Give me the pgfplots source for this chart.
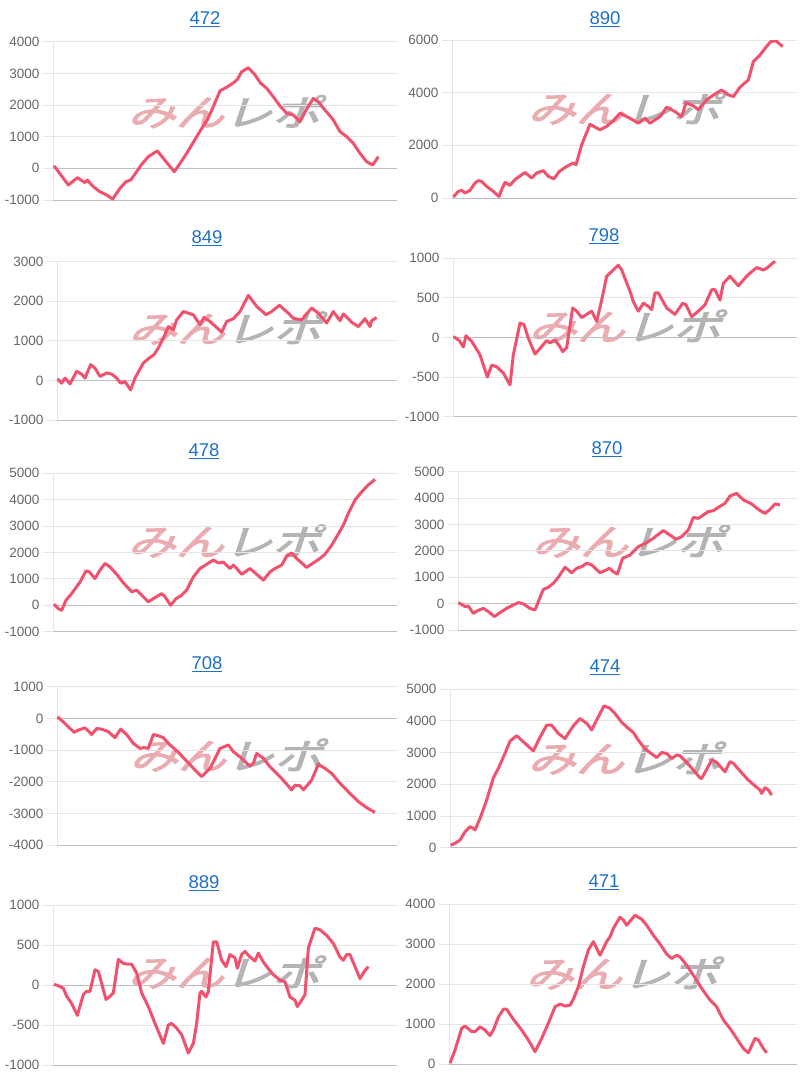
\documentclass[border=0pt]{standalone}
\usepackage{pgfplots}
\pgfplotsset{compat=1.18}
\usepackage{fontspec}
\setmainfont{Liberation Sans}
\newfontfamily\jpfont[FakeSlant=0.25, FakeBold=2.5]{Noto Sans CJK JP}
\definecolor{linered}{RGB}{240,82,110}
\definecolor{titleblue}{RGB}{30,112,200}
\definecolor{labgray}{RGB}{102,102,102}
\definecolor{wmpink}{RGB}{234,172,176}
\definecolor{wmgray}{RGB}{180,180,180}
\pgfplotsset{
  panel/.style={
    scale only axis, anchor=south west,
    axis lines*=left,
    x axis line style={draw=black!25, line width=0.8pt},
    y axis line style={draw=black!10, line width=0.8pt},
    xtick=\empty,
    ymajorgrids, grid style={draw=black!10, line width=0.8pt},
    tick align=outside, major tick length=10pt,
    ytick style={draw=black!10, line width=0.8pt},
    yticklabel style={font=\fontsize{13.5}{14}\selectfont, text=labgray},
    /pgf/number format/assume math mode=true,
    /pgf/number format/1000 sep={},
    scaled y ticks=false,
    extra y ticks={0}, extra y tick labels={},
    extra y tick style={grid style={draw=black!25, line width=0.8pt}},
    xmax=1191,
  },
  ln/.style={draw=linered, line width=3pt, line join=round, mark=none},
}
\newcommand{\logo}{\jpfont\textcolor{wmpink}{みん}\textcolor{wmgray}{レポ}}
\newcommand{\wm}[2]{\node[inner sep=0pt] at (#1pt,#2pt) {\resizebox*{193pt}{33pt}{\logo}};}
\newcommand{\ttl}[3]{\node[anchor=base, inner sep=0pt, text=titleblue, font=\fontsize{18.5}{20}\selectfont] at (#1pt,#2pt) {\underline{#3}};}
\begin{document}
\begin{tikzpicture}
\useasboundingbox (0pt,0pt) rectangle (800pt,-1080pt);
% ---------- 472
\wm{224}{-111.5}
\ttl{205}{-24.5}{472}
\begin{axis}[panel, at={(53pt,-200pt)}, width=344pt, height=158.3pt, xmin=159, ymin=-1000, ymax=4000, ytick={-1000,0,...,4000}]
\addplot[ln] coordinates {(162,84)(205,-526)(232,-295)(255,-450)(262,-370)(280,-580)(300,-740)(320,-840)(338,-970)(360,-630)(378,-420)(392,-370)(410,-105)(425,126)(445,370)(460,470)(472,550)(490,316)(523,-105)(540,158)(560,474)(575,737)(590,1000)(605,1260)(622,1530)(640,1950)(660,2450)(680,2560)(700,2700)(712,2810)(725,3050)(745,3180)(765,2950)(782,2690)(800,2530)(820,2260)(840,1970)(860,1740)(880,1685)(900,1470)(918,1840)(940,2210)(955,2100)(975,1840)(1000,1530)(1020,1160)(1040,1000)(1060,790)(1080,474)(1100,210)(1118,105)(1135,370)};
\end{axis}
% ---------- 890
\wm{624}{-108}
\ttl{605}{-24.5}{890}
\begin{axis}[panel, at={(452pt,-198pt)}, width=345pt, height=158pt, xmin=156, ymin=0, ymax=6000, ytick={0,2000,4000,6000}]
\addplot[ln] coordinates {(160,40)(175,250)(185,290)(195,190)(210,290)(225,570)(235,660)(245,630)(260,440)(280,250)(297,60)(305,320)(315,590)(330,480)(345,700)(375,970)(395,760)(410,950)(430,1040)(445,820)(462,730)(478,1010)(500,1200)(520,1330)(528,1260)(545,2020)(570,2800)(600,2590)(620,2720)(640,2940)(660,3220)(690,3030)(715,2840)(735,3030)(750,2840)(780,3090)(800,3450)(825,3280)(845,3090)(858,3620)(880,3500)(895,3350)(920,3730)(945,3950)(965,4100)(985,3920)(1000,3850)(1020,4210)(1045,4480)(1060,5180)(1080,5430)(1095,5680)(1112,5940)(1128,5970)(1148,5750)};
\end{axis}
% ---------- 849
\wm{225}{-328}
\ttl{207}{-243.5}{849}
\begin{axis}[panel, at={(57pt,-420pt)}, width=340pt, height=158.3pt, xmin=171, ymin=-1000, ymax=3000, ytick={-1000,0,...,3000}]
\addplot[ln] coordinates {(172,40)(185,-70)(195,60)(210,-90)(230,230)(245,160)(255,60)(272,400)(285,310)(300,100)(320,190)(335,160)(350,60)(362,-70)(375,-30)(392,-240)(405,60)(430,440)(445,550)(462,650)(475,820)(490,1070)(505,1360)(520,1280)(530,1530)(550,1740)(580,1660)(600,1410)(612,1590)(630,1490)(665,1220)(680,1490)(700,1560)(720,1740)(745,2150)(770,1870)(798,1660)(815,1740)(838,1900)(865,1700)(880,1570)(905,1530)(935,1830)(955,1700)(980,1450)(1000,1740)(1020,1510)(1030,1680)(1055,1470)(1075,1360)(1095,1560)(1110,1360)(1115,1510)(1130,1590)};
\end{axis}
% ---------- 798
\wm{625}{-326}
\ttl{604}{-241.5}{798}
\begin{axis}[panel, at={(453pt,-416.7pt)}, width=344pt, height=158.7pt, xmin=159, ymin=-1000, ymax=1000, ytick={-1000,-500,0,500,1000}]
\addplot[ln] coordinates {(160,10)(178,-40)(190,-120)(198,20)(215,-50)(240,-220)(262,-500)(275,-350)(290,-370)(310,-450)(330,-600)(340,-220)(360,180)(372,160)(385,-10)(405,-210)(420,-140)(440,-40)(450,-70)(465,-30)(480,-120)(488,-180)(500,-130)(518,370)(530,330)(545,250)(575,330)(590,200)(605,470)(620,770)(640,850)(655,910)(665,850)(690,580)(700,450)(715,330)(730,430)(745,390)(755,350)(765,560)(775,560)(800,370)(825,290)(848,430)(858,410)(875,260)(895,330)(915,410)(935,600)(945,600)(960,470)(970,680)(990,770)(1015,650)(1040,770)(1050,810)(1070,880)(1090,850)(1100,870)(1125,960)};
\end{axis}
% ---------- 478
\wm{224}{-541}
\ttl{204}{-456.5}{478}
\begin{axis}[panel, at={(53pt,-631.7pt)}, width=344pt, height=158.7pt, xmin=159, ymin=-1000, ymax=5000, ytick={-1000,0,...,5000}]
\addplot[ln] coordinates {(162,40)(175,-130)(185,-190)(198,190)(215,440)(240,880)(258,1300)(268,1260)(285,1010)(300,1330)(315,1580)(330,1450)(350,1170)(370,850)(395,510)(410,570)(425,380)(445,130)(460,250)(485,440)(495,320)(512,0)(528,250)(545,380)(560,570)(580,1070)(600,1390)(620,1550)(640,1710)(655,1600)(670,1630)(690,1390)(700,1520)(710,1390)(725,1170)(750,1390)(770,1170)(790,950)(810,1260)(825,1390)(845,1520)(860,1860)(875,1980)(890,1770)(905,1600)(920,1430)(940,1600)(960,1770)(975,1930)(995,2270)(1010,2590)(1030,3030)(1045,3470)(1065,3980)(1085,4290)(1105,4550)(1125,4760)};
\end{axis}
% ---------- 870
\wm{628}{-541}
\ttl{607}{-454.5}{870}
\begin{axis}[panel, at={(458pt,-630pt)}, width=339pt, height=158.3pt, xmin=174, ymin=-1000, ymax=5000, ytick={-1000,0,...,5000}]
\addplot[ln] coordinates {(175,40)(195,-110)(205,-90)(220,-370)(232,-270)(250,-180)(265,-300)(283,-490)(300,-340)(320,-180)(340,-50)(355,40)(370,-10)(390,-180)(405,-240)(415,80)(430,540)(445,620)(460,770)(475,1000)(495,1380)(515,1170)(530,1340)(545,1400)(560,1530)(575,1470)(600,1170)(615,1250)(628,1340)(640,1210)(652,1120)(668,1720)(690,1840)(715,2160)(740,2310)(760,2480)(790,2770)(810,2600)(828,2440)(845,2540)(865,2790)(880,3270)(895,3230)(910,3360)(925,3490)(940,3520)(955,3650)(975,3800)(990,4080)(1010,4180)(1030,3930)(1055,3780)(1075,3570)(1095,3420)(1110,3570)(1125,3780)(1140,3740)};
\end{axis}
% ---------- 708
\wm{226}{-755}
\ttl{207}{-669.5}{708}
\begin{axis}[panel, at={(57pt,-845pt)}, width=340pt, height=158.3pt, xmin=171, ymin=-4000, ymax=1000, ytick={-4000,-3000,...,1000}]
\addplot[ln] coordinates {(172,50)(190,-110)(222,-440)(235,-370)(255,-300)(275,-510)(290,-320)(305,-340)(325,-420)(345,-610)(362,-340)(380,-510)(400,-790)(420,-950)(432,-920)(445,-950)(460,-510)(475,-550)(490,-610)(510,-840)(535,-1070)(560,-1350)(585,-1630)(605,-1840)(630,-1580)(660,-950)(685,-840)(700,-1050)(725,-1260)(748,-1500)(760,-1420)(770,-1110)(790,-1260)(810,-1530)(840,-1840)(875,-2260)(885,-2110)(900,-2130)(910,-2260)(935,-1950)(955,-1450)(975,-1580)(995,-1740)(1020,-2050)(1050,-2370)(1075,-2630)(1100,-2820)(1125,-2970)};
\end{axis}
% ---------- 474
\wm{624}{-758}
\ttl{605}{-672.5}{474}
\begin{axis}[panel, at={(450pt,-847.7pt)}, width=347pt, height=158.7pt, xmin=150, ymin=0, ymax=5000, ytick={0,1000,...,5000}]
\addplot[ln] coordinates {(152,80)(165,140)(180,240)(195,500)(210,660)(220,610)(225,560)(240,920)(260,1500)(280,2200)(295,2500)(315,2970)(330,3360)(350,3530)(375,3290)(400,3050)(418,3440)(440,3860)(455,3860)(475,3600)(495,3440)(520,3840)(540,4070)(560,3920)(575,3710)(600,4230)(612,4470)(630,4390)(645,4230)(665,3950)(685,3760)(700,3630)(715,3390)(735,3110)(760,2920)(770,2840)(785,3000)(800,2970)(815,2810)(830,2920)(840,2900)(860,2690)(880,2450)(900,2200)(905,2180)(935,2760)(950,2690)(975,2390)(990,2710)(1000,2660)(1020,2420)(1045,2130)(1065,1950)(1080,1820)(1085,1710)(1095,1890)(1105,1820)(1115,1660)};
\end{axis}
% ---------- 889
\wm{224}{-972}
\ttl{204}{-888.5}{889}
\begin{axis}[panel, at={(53pt,-1065pt)}, width=344pt, height=160pt, xmin=159, ymin=-1000, ymax=1000, ytick={-1000,-500,0,500,1000}]
\addplot[ln] coordinates {(162,10)(175,-10)(190,-40)(200,-140)(215,-230)(232,-380)(250,-120)(260,-80)(270,-80)(285,190)(295,170)(305,20)(318,-180)(328,-150)(340,-100)(355,320)(370,270)(385,260)(395,260)(410,150)(425,-100)(445,-270)(465,-480)(490,-730)(505,-500)(515,-480)(530,-540)(545,-620)(565,-850)(580,-730)(590,-480)(600,-100)(605,-80)(618,-150)(625,-80)(640,540)(650,540)(665,310)(678,230)(690,380)(705,340)(712,210)(725,380)(735,420)(750,350)(765,300)(775,400)(788,300)(800,230)(820,130)(840,60)(855,40)(870,-150)(885,-190)(892,-270)(905,-190)(915,-120)(925,460)(945,710)(960,690)(980,620)(1000,520)(1020,350)(1030,310)(1040,380)(1050,380)(1065,230)(1080,80)(1093,170)(1105,230)};
\end{axis}
% ---------- 471
\wm{622}{-973}
\ttl{604}{-887.5}{471}
\begin{axis}[panel, at={(449pt,-1064pt)}, width=348pt, height=160pt, xmin=147, ymin=0, ymax=4000, ytick={0,1000,...,4000}]
\addplot[ln] coordinates {(150,20)(165,350)(185,890)(195,950)(215,810)(225,810)(240,930)(255,850)(270,710)(280,850)(295,1170)(310,1370)(320,1370)(340,1120)(365,850)(385,600)(405,310)(425,640)(445,1020)(465,1430)(480,1500)(495,1450)(510,1470)(520,1620)(535,1930)(550,2430)(565,2850)(580,3060)(600,2720)(620,3060)(630,3180)(640,3390)(660,3670)(670,3600)(680,3470)(705,3720)(725,3620)(740,3470)(760,3220)(780,3000)(800,2750)(815,2640)(830,2720)(840,2680)(860,2470)(880,2220)(905,1890)(930,1600)(950,1430)(970,1100)(990,890)(1010,640)(1030,390)(1045,280)(1065,640)(1075,600)(1090,390)(1100,280)};
\end{axis}
\end{tikzpicture}
\end{document}
